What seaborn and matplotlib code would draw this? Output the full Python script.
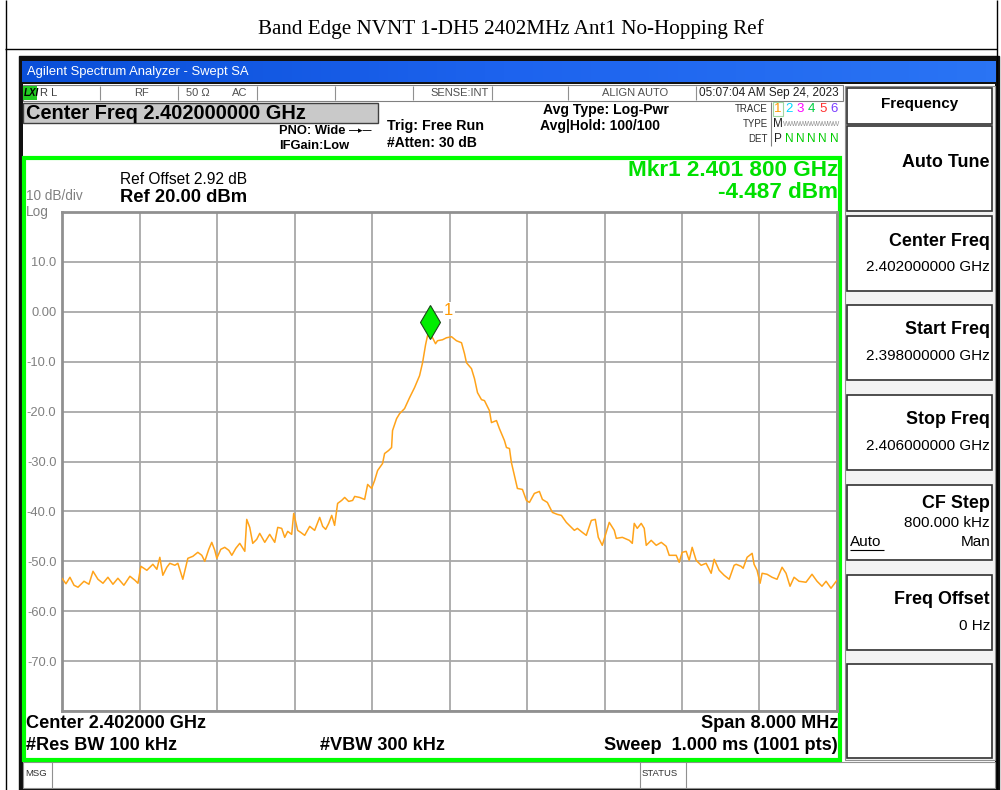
import matplotlib
matplotlib.use("Agg")
import matplotlib.pyplot as plt
import matplotlib.patches as mpatches
import matplotlib.transforms as mtransforms
import pandas as pd
import seaborn as sns

# ---- sweep settings ----
start_mhz = 2398.0
span_mhz = 8.0
ref_level = 20.0
db_per_div = 10.0

# ---- measured trace (offset from start frequency in MHz, level in dBm) ----
offset_mhz = [
    0.000, 0.041, 0.082, 0.124, 0.165, 0.227, 0.278, 0.320, 0.371, 0.423,
    0.474, 0.526, 0.577, 0.639, 0.701, 0.753, 0.784, 0.814, 0.876, 0.938,
    0.979, 1.010, 1.041, 1.082, 1.113, 1.165, 1.196, 1.247, 1.299, 1.351,
    1.402, 1.443, 1.474, 1.515, 1.546, 1.577, 1.598, 1.639, 1.680, 1.722,
    1.753, 1.794, 1.835, 1.887, 1.907, 1.938, 1.969, 2.010, 2.041, 2.093,
    2.144, 2.196, 2.227, 2.268, 2.299, 2.330, 2.371, 2.392, 2.433, 2.464,
    2.505, 2.557, 2.608, 2.660, 2.691, 2.722, 2.753, 2.784, 2.814, 2.845,
    2.887, 2.918, 2.959, 3.000, 3.021, 3.072, 3.124, 3.155, 3.196, 3.227,
    3.258, 3.309, 3.330, 3.371, 3.402, 3.412, 3.454, 3.485, 3.536, 3.588,
    3.639, 3.691, 3.722, 3.753, 3.773, 3.800, 3.825, 3.856, 3.876, 3.928,
    3.969, 4.021, 4.072, 4.124, 4.155, 4.175, 4.227, 4.258, 4.289, 4.330,
    4.361, 4.412, 4.433, 4.485, 4.515, 4.567, 4.588, 4.619, 4.639, 4.670,
    4.701, 4.753, 4.794, 4.825, 4.876, 4.928, 4.959, 5.010, 5.062, 5.113,
    5.155, 5.206, 5.237, 5.289, 5.320, 5.371, 5.412, 5.464, 5.505, 5.536,
    5.577, 5.608, 5.649, 5.701, 5.722, 5.784, 5.856, 5.887, 5.907, 5.938,
    5.979, 6.010, 6.031, 6.082, 6.134, 6.186, 6.237, 6.268, 6.340, 6.371,
    6.402, 6.443, 6.474, 6.505, 6.546, 6.598, 6.649, 6.701, 6.732, 6.784,
    6.835, 6.887, 6.938, 6.959, 7.010, 7.031, 7.072, 7.124, 7.144, 7.175,
    7.206, 7.227, 7.278, 7.330, 7.381, 7.433, 7.474, 7.515, 7.557, 7.608,
    7.680, 7.742, 7.794, 7.845, 7.887, 7.938, 8.000,
]
level_dbm = [
    -53.4, -54.5, -53.2, -54.8, -55.2, -54.0, -54.6, -52.0, -53.6, -54.4,
    -53.2, -54.6, -53.4, -54.8, -53.0, -53.8, -54.4, -51.0, -51.8, -50.6,
    -51.6, -49.2, -52.8, -51.2, -50.4, -50.8, -50.4, -53.6, -49.4, -49.0,
    -48.2, -48.8, -50.0, -47.6, -46.2, -47.8, -49.4, -47.6, -47.2, -47.8,
    -48.8, -47.4, -46.4, -48.0, -41.6, -43.2, -46.4, -45.6, -44.4, -46.2,
    -44.6, -46.2, -43.2, -43.4, -45.2, -44.0, -44.6, -40.4, -43.8, -44.2,
    -44.8, -43.0, -43.8, -41.2, -43.0, -43.6, -42.4, -40.8, -42.8, -38.4,
    -37.8, -37.2, -38.0, -37.8, -37.0, -37.2, -37.6, -34.6, -35.4, -33.8,
    -31.8, -30.4, -28.4, -27.8, -27.2, -23.8, -21.4, -20.4, -19.4, -17.2,
    -15.2, -12.8, -10.2, -6.6, -4.8, -4.487, -5.2, -6.4, -5.8, -5.6,
    -5.2, -5.0, -5.8, -6.2, -8.4, -10.2, -11.4, -13.4, -16.2, -17.6,
    -17.8, -19.8, -22.2, -21.8, -23.4, -25.8, -27.2, -27.4, -30.2, -32.8,
    -35.4, -35.6, -37.8, -38.2, -36.4, -36.0, -37.6, -38.2, -40.2, -40.6,
    -40.8, -42.2, -42.8, -43.8, -43.4, -44.2, -44.8, -41.8, -41.6, -45.2,
    -46.8, -44.8, -42.2, -43.8, -45.4, -45.2, -45.8, -46.4, -42.4, -43.4,
    -42.4, -43.4, -46.8, -45.8, -46.8, -46.2, -47.0, -48.8, -48.8, -50.2,
    -48.2, -48.0, -49.8, -47.2, -49.8, -50.8, -50.4, -52.4, -49.6, -51.8,
    -52.8, -53.6, -50.8, -50.6, -51.0, -51.4, -49.2, -48.4, -50.6, -51.8,
    -54.4, -52.4, -52.6, -53.2, -53.6, -51.2, -52.4, -55.0, -53.2, -54.0,
    -54.2, -52.6, -54.0, -55.0, -54.0, -55.4, -53.8,
]

marker_offset_mhz = 3.800
marker_level_dbm = -4.487

ytick_values = [20, 10, 0, -10, -20, -30, -40, -50, -60, -70, -80]
ytick_labels = ["", "10.0", "0.00", "-10.0", "-20.0", "-30.0", "-40.0",
                "-50.0", "-60.0", "-70.0", ""]

page_title = "Band Edge NVNT 1-DH5 2402MHz Ant1 No-Hopping Ref"

softkeys = [
    ("Auto Tune", None),
    ("Center Freq", "2.402000000 GHz"),
    ("Start Freq", "2.398000000 GHz"),
    ("Stop Freq", "2.406000000 GHz"),
    ("CF Step", "800.000 kHz"),
    ("Freq Offset", "0 Hz"),
]

# ---------------------------------------------------------------------------
sns.set_theme(style="white")
plt.rcParams["font.family"] = ["Liberation Sans", "DejaVu Sans"]

W, H = 1001, 790
fig = plt.figure(figsize=(W / 100, H / 100), dpi=100)
fig.patch.set_facecolor("white")

# pixel-space canvas for the instrument chrome
bg = fig.add_axes([0, 0, 1, 1])
bg.set_xlim(0, W)
bg.set_ylim(H, 0)
bg.axis("off")


def box(x0, y0, x1, y1, fc="none", ec="black", lw=1.0, z=1):
    bg.add_patch(mpatches.Rectangle((x0, y0), x1 - x0, y1 - y0, facecolor=fc,
                                    edgecolor=ec, linewidth=lw, zorder=z))


def hline(x0, x1, y, color="black", lw=1.0, z=2):
    bg.plot([x0, x1], [y, y], color=color, lw=lw, zorder=z, solid_capstyle="butt")


def vline(x, y0, y1, color="black", lw=1.0, z=2):
    bg.plot([x, x], [y0, y1], color=color, lw=lw, zorder=z, solid_capstyle="butt")


def txt(x, y, s, size=10, weight="normal", color="black", ha="left", va="center", **kw):
    bg.text(x, y, s, fontsize=size, fontweight=weight, color=color, ha=ha, va=va,
            zorder=5, **kw)


# report page frame and heading
vline(5.5, 0, H, lw=1.0)
vline(996.5, 0, H, lw=1.0)
hline(5, 997, 48.5, lw=1.0)
txt(511, 29, page_title, size=15.2, family=["Liberation Serif", "DejaVu Serif"], ha="center")

# instrument window
box(19, 56, 999, 792, fc="#101010", ec="#101010", z=0)
box(23, 84, 995, 788, fc="white", ec="none", z=0.5)
# title bar gradient
grad = [[i / 100 for i in range(101)]]
bg.imshow(grad, extent=(22, 996, 82, 61), aspect="auto", zorder=0.8,
          cmap=matplotlib.colors.LinearSegmentedColormap.from_list(
              "bar", ["#0a4fd8", "#1d63ee", "#2a74f4"]))
txt(27, 72.5, "Agilent Spectrum Analyzer - Swept SA", size=9.4, color="white")

# status strip
box(23, 85, 843, 101, fc="white", ec="#808080", lw=0.8, z=1)
box(23, 86, 37, 100, fc="#22cc22", ec="none", z=1.5)
txt(24, 93, "LXI", size=7, weight="bold", style="italic", color="black")
txt(40, 93, "R L", size=8, color="#404040")
for xs in (100, 178, 257, 335, 413, 492, 568, 696):
    vline(xs, 86, 100, color="#909090", lw=0.8)
txt(134, 93, "RF", size=8, color="#505050")
txt(186, 93, "50 Ω", size=8, color="#505050")
txt(232, 93, "AC", size=8, color="#505050")
txt(489, 93, "SENSE:INT", size=8, color="#505050", ha="right")
txt(668, 93, "ALIGN AUTO", size=8, color="#505050", ha="right")
txt(699, 93, "05:07:04 AM Sep 24, 2023", size=8.5, color="#202020")

# active function / settings block
box(23, 103, 378, 123, fc="#c9c9c9", ec="#404040", lw=1.0, z=1)
txt(26, 113.5, "Center Freq 2.402000000 GHz", size=14.4, weight="bold")
txt(279, 131, "PNO: Wide", size=9.3, weight="bold")
txt(349, 131, "\u2014\u25b8\u2014", size=6.5, weight="bold")
txt(279, 146, "IFGain:Low", size=9.3, weight="bold")
txt(387, 126, "Trig: Free Run", size=10.3, weight="bold")
txt(387, 143, "#Atten: 30 dB", size=10.0, weight="bold")
txt(543, 110, "Avg Type: Log-Pwr", size=10.1, weight="bold")
txt(540, 126, "Avg|Hold: 100/100", size=10.1, weight="bold")

txt(768, 109, "TRACE", size=7, color="#303030", ha="right")
txt(768, 124, "TYPE", size=7, color="#303030", ha="right")
txt(768, 139, "DET", size=7, color="#303030", ha="right")
vline(771, 102, 146, color="#808080", lw=0.8)
box(773, 102, 783, 116, fc="none", ec="#a0d8a0", lw=0.8, z=1)
trace_colors = ["#ff9900", "#00d8ff", "#ff00ff", "#00d040", "#ff3030", "#7a3cff"]
for i, c in enumerate(trace_colors):
    xc = 778 + i * 11.2
    txt(xc, 109, str(i + 1), size=9.5, color=c, ha="center")
    if i == 0:
        txt(xc, 124, "M", size=8.5, color="#202020", ha="center")
        txt(xc, 139, "P", size=8.5, color="#202020", ha="center")
    else:
        txt(xc, 124, "WW", size=5, color="#909090", ha="center")
        txt(xc, 139, "N", size=8.5, color="#00cc00", ha="center")

# softkey panel
box(845, 86, 995, 760, fc="#f2f2f2", ec="#909090", lw=0.8, z=0.9)
box(847, 88, 992, 124, fc="white", ec="#303030", lw=1.2, z=1)
txt(920, 104, "Frequency", size=11, weight="bold", ha="center")
key_tops = [126, 216, 305, 395, 485, 575]
key_bottoms = [211, 291, 380, 470, 560, 650]
for (name, value), top, bottom in zip(softkeys, key_tops, key_bottoms):
    box(847, top, 992, bottom, fc="white", ec="#303030", lw=1.2, z=1)
    if value is None:
        txt(990, (top + bottom) / 2 - 6, name, size=12.9, weight="bold", ha="right")
    elif name == "CF Step":
        txt(990, top + 19, name, size=12.9, weight="bold", ha="right")
        txt(990, top + 38, value, size=11, ha="right")
        txt(850, top + 57, "Auto", size=11, ha="left")
        hline(850, 884, top + 65, lw=0.8)
        txt(990, top + 57, "Man", size=11, ha="right")
    else:
        txt(990, top + 25, name, size=12.9, weight="bold", ha="right")
        txt(990, top + 51, value, size=11, ha="right")
box(847, 664, 992, 758, fc="white", ec="#303030", lw=1.2, z=1)

# message / status line
box(23, 762, 995, 788, fc="white", ec="#909090", lw=0.8, z=1)
vline(52, 762, 788, color="#909090", lw=0.8)
vline(640, 762, 788, color="#909090", lw=0.8)
vline(686, 762, 788, color="#909090", lw=0.8)
txt(25, 774, "MSG", size=6.8, color="#303030")
txt(642, 774, "STATUS", size=6.8, color="#303030")

# graticule frame (green) and annotations
box(24, 158, 840, 760, fc="white", ec="#00ff00", lw=3.0, z=1)
txt(120, 180, "Ref Offset 2.92 dB", size=11.2)
txt(120, 197.5, "Ref 20.00 dBm", size=13.2, weight="bold")
txt(26, 200, "10 dB/div", size=9.8, color="#808080", va="baseline")
txt(26, 216, "Log", size=9.8, color="#808080", va="baseline")
txt(838, 171, "Mkr1 2.401 800 GHz", size=16.2, weight="bold", color="#00e000", ha="right")
txt(838, 192.5, f"{marker_level_dbm:.3f} dBm", size=16.2, weight="bold",
    color="#00e000", ha="right")
txt(26, 723, "Center 2.402000 GHz", size=13.1, weight="bold")
txt(26, 745, "#Res BW 100 kHz", size=13.1, weight="bold")
txt(320, 745, "#VBW 300 kHz", size=13.1, weight="bold")
txt(838, 723, "Span 8.000 MHz", size=13.1, weight="bold", ha="right")
txt(838, 745, "Sweep  1.000 ms (1001 pts)", size=13.1, weight="bold", ha="right")

# ---- spectrum display ----
px0, py0, px1, py1 = 62, 212, 837, 711
ax = fig.add_axes([px0 / W, 1 - py1 / H, (px1 - px0) / W, (py1 - py0) / H])
ax.set_facecolor("white")
ax.set_zorder(3)

df = pd.DataFrame({
    "freq": [start_mhz + f for f in offset_mhz],
    "level": level_dbm,
})
sns.lineplot(data=df, x="freq", y="level", ax=ax, color="#ffa31a", linewidth=1.1,
             estimator=None, sort=False, zorder=4)

ax.set_xlim(start_mhz, start_mhz + span_mhz)
ax.set_ylim(ref_level - 10 * db_per_div, ref_level)
ax.set_xticks([start_mhz + i * span_mhz / 10 for i in range(11)])
ax.set_xticklabels([])
ax.set_yticks(ytick_values)
ax.set_yticklabels(ytick_labels)
ax.tick_params(axis="both", length=0, pad=4)
ax.tick_params(axis="y", labelsize=9.3, labelcolor="#808080")
ax.grid(True, color="#a8a8a8", linewidth=1.3)
for sp in ax.spines.values():
    sp.set_color("#909090")
    sp.set_linewidth(2.0)
ax.set_xlabel("")
ax.set_ylabel("")

# marker 1: diamond sitting on the trace peak
mf = start_mhz + marker_offset_mhz
lift = mtransforms.offset_copy(ax.transData, fig=fig, x=0, y=8.5, units="points")
ax.plot([mf], [marker_level_dbm], marker="d", markersize=17, markerfacecolor="#00ee00",
        markeredgecolor="#1a4a1a", markeredgewidth=0.8, transform=lift, zorder=6,
        clip_on=False)
lbl = mtransforms.offset_copy(ax.transData, fig=fig, x=10, y=17, units="points")
ax.text(mf, marker_level_dbm, "1", transform=lbl, fontsize=12, color="#ff9900",
        ha="left", va="center", zorder=6,
        bbox=dict(facecolor="white", edgecolor="none", pad=1.0))

fig.savefig("out.png", dpi=100, facecolor="white")
